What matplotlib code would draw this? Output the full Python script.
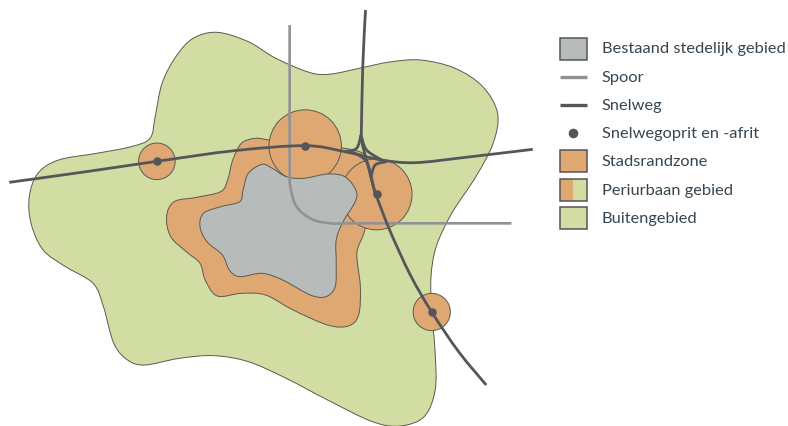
import numpy as np
import matplotlib.pyplot as plt
from matplotlib.path import Path
from matplotlib.patches import PathPatch, Circle, Rectangle

plt.rcParams["font.family"] = ["Lato", "DejaVu Sans"]

GREEN = "#d2dda4"
ORANGE = "#dfa872"
GRAY = "#b7bcbb"
EDGE = "#5a5a50"
RAIL = "#929295"
ROAD = "#55565a"
TEXT = "#36454f"

OUTER = [(630, 97), (720, 125), (800, 175), (900, 218), (960, 222), (1050, 203), (1130, 186),
         (1220, 180), (1320, 205), (1400, 260), (1443, 340), (1430, 430), (1380, 530), (1310, 640),
         (1265, 740), (1250, 830), (1252, 930), (1262, 1060), (1262, 1170), (1230, 1250),
         (1160, 1278), (1080, 1265), (950, 1200), (830, 1135), (720, 1085), (620, 1067), (520, 1075),
         (420, 1095), (370, 1080), (330, 1030), (300, 920), (270, 850), (190, 800), (125, 750),
         (90, 670), (85, 590), (110, 520), (170, 480), (280, 460), (380, 440), (435, 415), (450, 350),
         (470, 250), (510, 170), (560, 115)]
FRINGE = [(740, 415), (700, 430), (675, 480), (660, 540), (640, 575), (570, 592), (505, 605),
          (483, 650), (495, 710), (540, 755), (580, 790), (595, 840), (630, 888), (700, 880),
          (770, 885), (850, 930), (950, 975), (1010, 978), (1040, 945), (1045, 860), (1035, 760),
          (1055, 700), (1080, 600), (1085, 510), (1060, 465), (1000, 445), (850, 430), (780, 420)]
CITY = [(760, 493), (720, 520), (705, 570), (695, 605), (640, 620), (590, 640), (580, 680),
        (600, 725), (645, 765), (665, 810), (695, 830), (760, 820), (820, 840), (900, 885),
        (945, 890), (972, 860), (975, 790), (975, 720), (995, 665), (1030, 605), (1032, 570),
        (1000, 530), (950, 522), (880, 535), (830, 530), (790, 505)]

RAIL_LINE = [(840, 75), (840, 300), (840, 500), (842, 560), (860, 620), (905, 658), (960, 670),
             (1020, 670), (1250, 670), (1483, 670)]
ROAD_EW = [(27, 547), (250, 515), (455, 484), (680, 452), (885, 437), (1000, 455), (1107, 480),
           (1204, 488), (1350, 472), (1545, 448)]
ROAD_N = [(1060, 30), (1052, 200), (1048, 390), (1047, 415), (1059, 465), (1073, 520), (1088, 582)]
ROAD_SE = [(1000, 455), (1030, 460), (1063, 485), (1076, 530), (1090, 582), (1130, 690), (1190, 825),
           (1252, 936), (1330, 1055), (1410, 1155)]
RAMP_W = [(1047, 405), (1034, 445), (1000, 455)]
RAMP_E = [(1047, 405), (1063, 450), (1107, 480)]
RAMP_S = [(1121, 485), (1088, 495), (1076, 530)]

# junctions: x, y, radius of the zone around them
JUNCTION_X = [455, 885, 1092, 1252]
JUNCTION_Y = [484, 438, 583, 936]
ZONE_R = [53, 105, 103, 54]

LEGEND_LABELS = ["Bestaand stedelijk gebied", "Spoor", "Snelweg", "Snelwegoprit en -afrit",
                 "Stadsrandzone", "Periurbaan gebied", "Buitengebied"]
LEGEND_Y = [48.5, 77, 105, 133, 161, 190, 218]

SCALE_X = 2.9
SCALE_Y = 3.0


def spline_path(points, closed=False):
    # Catmull-Rom through the read points, written as bezier segments
    pts = np.array(points, dtype=float) / [SCALE_X, SCALE_Y]
    n = len(pts)
    verts = [pts[0]]
    codes = [Path.MOVETO]
    for i in range(n if closed else n - 1):
        if closed:
            p0, p1, p2, p3 = pts[(i - 1) % n], pts[i], pts[(i + 1) % n], pts[(i + 2) % n]
        else:
            p0, p1, p2, p3 = pts[max(i - 1, 0)], pts[i], pts[i + 1], pts[min(i + 2, n - 1)]
        verts += [p1 + (p2 - p0) / 6, p2 - (p3 - p1) / 6, p2]
        codes += [Path.CURVE4] * 3
    return Path(verts, codes)


def main():
    fig = plt.figure(figsize=(7.88, 4.26), dpi=100, facecolor="white")
    ax = fig.add_axes([0, 0, 1, 1])
    ax.set_xlim(0, 788)
    ax.set_ylim(426, 0)
    ax.axis("off")

    ax.add_patch(PathPatch(spline_path(OUTER, True), fc=GREEN, ec=EDGE, lw=0.7))
    ax.add_patch(PathPatch(spline_path(FRINGE, True), fc=ORANGE, ec=EDGE, lw=0.7))
    for x, y, r in zip(JUNCTION_X, JUNCTION_Y, ZONE_R):
        ax.add_patch(Circle((x / SCALE_X, y / SCALE_Y), r / SCALE_X, fc=ORANGE, ec=EDGE, lw=0.7))
    ax.add_patch(PathPatch(spline_path(CITY, True), fc=GRAY, ec=EDGE, lw=0.7))

    ax.add_patch(PathPatch(spline_path(RAIL_LINE), fc="none", ec=RAIL, lw=1.9, capstyle="butt"))
    for line in [ROAD_EW, ROAD_N, ROAD_SE, RAMP_W, RAMP_E, RAMP_S]:
        ax.add_patch(PathPatch(spline_path(line), fc="none", ec=ROAD, lw=2.0, capstyle="butt"))
    ax.scatter(np.array(JUNCTION_X) / SCALE_X, np.array(JUNCTION_Y) / SCALE_Y, s=38, color=ROAD, zorder=5, linewidths=0)

    # --- legend ---
    sw_x, sw_w, sw_h = 560, 27, 22
    for idx, color in [(0, GRAY), (4, ORANGE), (6, GREEN)]:
        ax.add_patch(Rectangle((sw_x, LEGEND_Y[idx] - sw_h / 2), sw_w, sw_h, fc=color, ec="#555555", lw=1.1))
    y5 = LEGEND_Y[5]
    ax.add_patch(Rectangle((sw_x, y5 - sw_h / 2), sw_w / 2, sw_h, fc=ORANGE, ec="none"))
    ax.add_patch(Rectangle((sw_x + sw_w / 2, y5 - sw_h / 2), sw_w / 2, sw_h, fc=GREEN, ec="none"))
    ax.add_patch(Rectangle((sw_x, y5 - sw_h / 2), sw_w, sw_h, fc="none", ec="#555555", lw=1.1))
    ax.plot([sw_x, sw_x + sw_w], [LEGEND_Y[1]] * 2, color=RAIL, lw=2.4, solid_capstyle="butt")
    ax.plot([sw_x, sw_x + sw_w], [LEGEND_Y[2]] * 2, color=ROAD, lw=2.4, solid_capstyle="butt")
    ax.scatter([sw_x + sw_w / 2], [LEGEND_Y[3]], s=48, color=ROAD, linewidths=0)
    for label, y in zip(LEGEND_LABELS, LEGEND_Y):
        ax.text(602, y + 1, label, fontsize=11.8, color=TEXT, va="center", ha="left")

    fig.savefig("out.png", dpi=100, facecolor="white")


if __name__ == "__main__":
    main()
